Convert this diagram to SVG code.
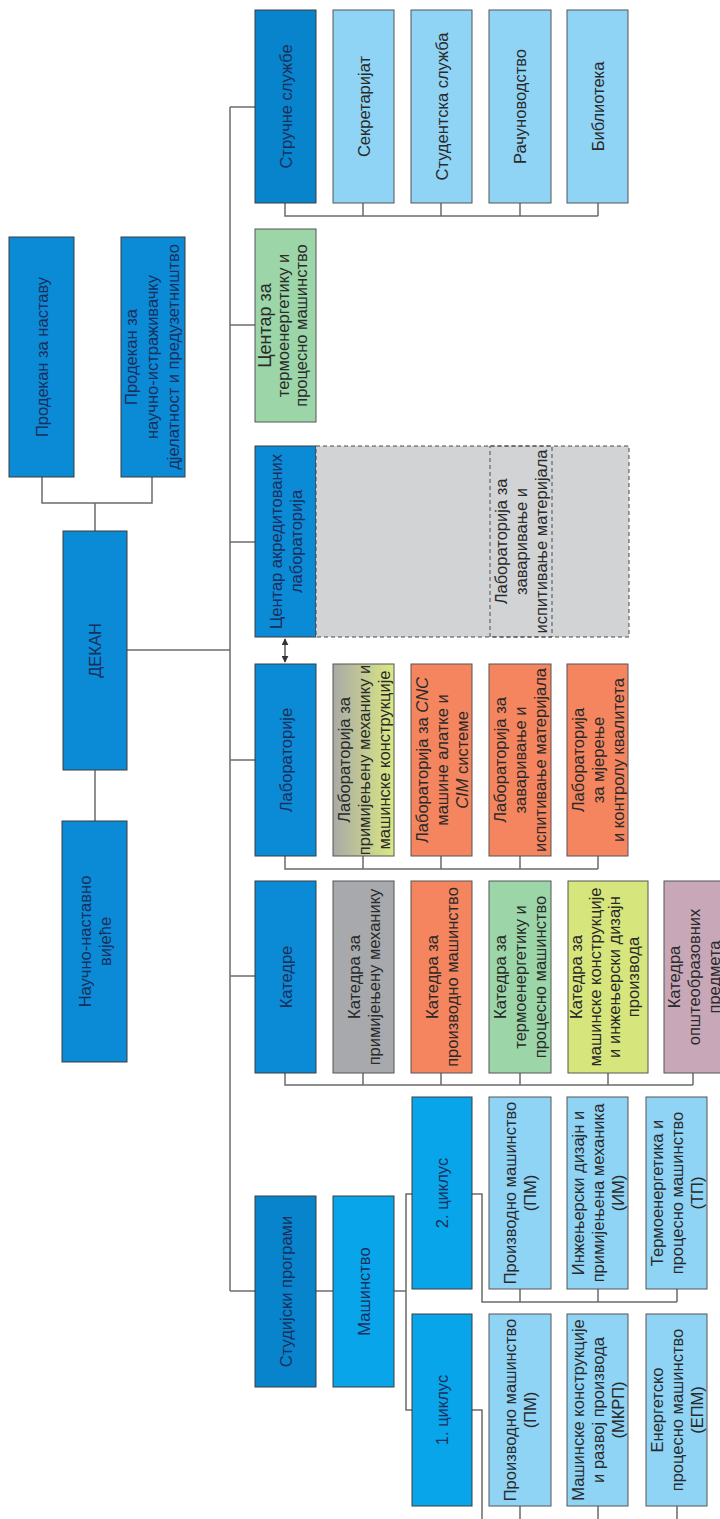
<svg xmlns="http://www.w3.org/2000/svg" width="720" height="1519" viewBox="0 0 720 1519">
<defs>
<style>
.n{stroke:#3c3c3c;stroke-width:1}
.db{fill:#0b8ad6}
.dk{fill:#0784cc}
.cy{fill:#08a5ea}
.lb{fill:#8fd3f5;stroke:#555}
.gr{fill:#9bd5a8;stroke:#555}
.gy{fill:#a7a9ac;stroke:#555}
.or{fill:#f5855f;stroke:#555}
.yg{fill:#d6e57c;stroke:#555}
.pk{fill:#c8a8b8;stroke:#555}
.lg{fill:url(#g1);stroke:#555}
.da{fill:#d1d3d4;stroke:#4a4a4a;stroke-width:1;stroke-dasharray:4 3}
.di{fill:none;stroke:#4a4a4a;stroke-width:1;stroke-dasharray:4 3}
text{font-family:"Liberation Sans",Arial,sans-serif;font-size:16.5px;text-anchor:middle;fill:#2a2a2a}
text.bt{fill:#1a2f5c}
#connectors path{fill:none;stroke:#6b6b6b;stroke-width:1.5}
#connectors path.ar{stroke:#333;stroke-width:1.2}
</style>
<linearGradient id="g1" x1="0" y1="0" x2="1" y2="0">
<stop offset="0" stop-color="#a9aaa6"/>
<stop offset="1" stop-color="#dbe882"/>
</linearGradient>
<marker id="ah" viewBox="0 0 10 10" refX="9" refY="5" markerWidth="7" markerHeight="7" orient="auto-start-reverse" markerUnits="userSpaceOnUse">
<path d="M0,0 L10,5 L0,10 z" fill="#333"/>
</marker>
</defs>
<rect width="720" height="1519" fill="#fff"/>

<g id="connectors">
<path d="M230,107 V1291"/>
<path d="M230,107 H255"/>
<path d="M230,325 H255"/>
<path d="M230,542 H255"/>
<path d="M127,650 H230"/>
<path d="M230,760 H255"/>
<path d="M230,976 H255"/>
<path d="M230,1291 H255"/>
<path d="M285,203 V216 H598 M363,203 V216 M441,203 V216 M520,203 V216 M598,203 V216"/>
<path d="M285,856 V869 H598 M363,856 V869 M441,856 V869 M520,856 V869 M598,856 V869"/>
<path d="M285,1073 V1085 H693 M363,1073 V1085 M441,1073 V1085 M520,1073 V1085 M608,1073 V1085 M693,1073 V1085"/>
<path d="M42,477 V503 H152 V477 M95,503 V531"/>
<path d="M95,770 V821"/>
<path d="M316,1291 H333"/>
<path d="M394,1291 H406 M412,1194 H406 V1410 H412"/>
<path d="M472,1194 H482 V1302 H677 M520,1289 V1302 M598,1289 V1302 M677,1289 V1302"/>
<path d="M472,1410 H482 V1525 H677 M520,1506 V1525 M598,1506 V1525 M677,1506 V1525"/>
<path class="ar" d="M285,639 V662" marker-start="url(#ah)" marker-end="url(#ah)"/>
</g>

<g id="strucne-sluzbe"><rect class="n dk" x="255" y="10" width="61" height="193"/>
<text class="bt" transform="translate(285.5,106.5) rotate(-90)"><tspan x="0" y="6">Стручне службе</tspan></text></g>
<g id="sekretarijat"><rect class="n lb" x="333" y="10" width="61" height="193"/>
<text transform="translate(363.5,106.5) rotate(-90)"><tspan x="0" y="6">Секретаријат</tspan></text></g>
<g id="studentska-sluzba"><rect class="n lb" x="411" y="10" width="61" height="193"/>
<text transform="translate(441.5,106.5) rotate(-90)"><tspan x="0" y="6">Студентска служба</tspan></text></g>
<g id="racunovodstvo"><rect class="n lb" x="489" y="10" width="62" height="193"/>
<text transform="translate(520,106.5) rotate(-90)"><tspan x="0" y="6">Рачуноводство</tspan></text></g>
<g id="biblioteka"><rect class="n lb" x="567" y="10" width="61" height="193"/>
<text transform="translate(597.5,106.5) rotate(-90)"><tspan x="0" y="6">Библиотека</tspan></text></g>

<g id="centar-termo"><rect class="n gr" x="255" y="229" width="61" height="193"/>
<text transform="translate(283,325.5) rotate(-90)"><tspan x="0" y="-12" style="font-size:18px">Центар за</tspan><tspan x="0" y="6">термоенергетику и</tspan><tspan x="0" y="24">процесно машинство</tspan></text></g>

<g id="centar-akred"><rect class="n db" x="255" y="446" width="61" height="191"/>
<text class="bt" transform="translate(285.5,541.5) rotate(-90)"><tspan x="0" y="-4">Центар акредитованих</tspan><tspan x="0" y="16">лабораторија</tspan></text></g>

<g id="akred-labs"><rect class="da" x="316" y="446" width="313" height="191"/>
<rect class="di" x="490" y="446" width="62" height="191"/>
<text transform="translate(521,541.5) rotate(-90)"><tspan x="0" y="-14">Лабораторија за</tspan><tspan x="0" y="6">заваривање и</tspan><tspan x="0" y="26">испитивање материјала</tspan></text></g>

<g id="laboratorije"><rect class="n db" x="255" y="664" width="61" height="192"/>
<text class="bt" transform="translate(285.5,760) rotate(-90)"><tspan x="0" y="6">Лабораторије</tspan></text></g>
<g id="lab-mehanika"><rect class="n lg" x="333" y="664" width="61" height="192"/>
<text transform="translate(363.5,760) rotate(-90)"><tspan x="0" y="-14">Лабораторија за</tspan><tspan x="0" y="6">примијењену механику и</tspan><tspan x="0" y="26">машинске конструкције</tspan></text></g>
<g id="lab-cnc"><rect class="n or" x="411" y="664" width="61" height="192"/>
<text transform="translate(441.5,760) rotate(-90)"><tspan x="0" y="-14">Лабораторија за <tspan font-style="italic">CNC</tspan></tspan><tspan x="0" y="6">машине алатке и</tspan><tspan x="0" y="26"><tspan font-style="italic">CIM</tspan> системе</tspan></text></g>
<g id="lab-zavarivanje"><rect class="n or" x="489" y="664" width="62" height="192"/>
<text transform="translate(520,760) rotate(-90)"><tspan x="0" y="-14">Лабораторија за</tspan><tspan x="0" y="6">заваривање и</tspan><tspan x="0" y="26">испитивање материјала</tspan></text></g>
<g id="lab-mjerenje"><rect class="n or" x="567" y="664" width="61" height="192"/>
<text transform="translate(597.5,760) rotate(-90)"><tspan x="0" y="-14">Лабораторија</tspan><tspan x="0" y="6">за мјерење</tspan><tspan x="0" y="26">и контролу квалитета</tspan></text></g>

<g id="katedre"><rect class="n db" x="255" y="881" width="61" height="192"/>
<text class="bt" transform="translate(285.5,977) rotate(-90)"><tspan x="0" y="6">Катедре</tspan></text></g>
<g id="kat-mehanika"><rect class="n gy" x="333" y="881" width="61" height="192"/>
<text transform="translate(363.5,977) rotate(-90)"><tspan x="0" y="-4">Катедра за</tspan><tspan x="0" y="16">примијењену механику</tspan></text></g>
<g id="kat-proizvodno"><rect class="n or" x="411" y="881" width="61" height="192"/>
<text transform="translate(441.5,977) rotate(-90)"><tspan x="0" y="-4">Катедра за</tspan><tspan x="0" y="16">производно машинство</tspan></text></g>
<g id="kat-termo"><rect class="n gr" x="489" y="881" width="62" height="192"/>
<text transform="translate(520,977) rotate(-90)"><tspan x="0" y="-14">Катедра за</tspan><tspan x="0" y="6">термоенергетику и</tspan><tspan x="0" y="26">процесно машинство</tspan></text></g>
<g id="kat-konstrukcije"><rect class="n yg" x="568" y="881" width="80" height="192"/>
<text transform="translate(606,977) rotate(-90)"><tspan x="0" y="-24">Катедра за</tspan><tspan x="0" y="-5">машинске конструкције</tspan><tspan x="0" y="14">и инжењерски дизајн</tspan><tspan x="0" y="33">производа</tspan></text></g>
<g id="kat-opste"><rect class="n pk" x="664" y="881" width="64" height="192"/>
<text transform="translate(694,977) rotate(-90)"><tspan x="0" y="-14">Катедра</tspan><tspan x="0" y="6">општеобразовних</tspan><tspan x="0" y="26">предмета</tspan></text></g>

<g id="studijski-programi"><rect class="n dk" x="255" y="1196" width="61" height="191"/>
<text class="bt" transform="translate(285.5,1291.5) rotate(-90)"><tspan x="0" y="6">Студијски програми</tspan></text></g>
<g id="masinstvo"><rect class="n cy" x="333" y="1196" width="61" height="191"/>
<text class="bt" transform="translate(363.5,1291.5) rotate(-90)"><tspan x="0" y="6">Машинство</tspan></text></g>
<g id="ciklus-2"><rect class="n cy" x="412" y="1097" width="60" height="192"/>
<text class="bt" transform="translate(442,1193) rotate(-90)"><tspan x="0" y="6">2. циклус</tspan></text></g>
<g id="ciklus-1"><rect class="n cy" x="412" y="1314" width="60" height="192"/>
<text class="bt" transform="translate(442,1410) rotate(-90)"><tspan x="0" y="6">1. циклус</tspan></text></g>

<g id="c2-pm"><rect class="n lb" x="489" y="1097" width="62" height="192"/>
<text transform="translate(520,1193) rotate(-90)"><tspan x="0" y="-4">Производно машинство</tspan><tspan x="0" y="16">(ПМ)</tspan></text></g>
<g id="c2-im"><rect class="n lb" x="567" y="1097" width="61" height="192"/>
<text transform="translate(597.5,1193) rotate(-90)"><tspan x="0" y="-14">Инжењерски дизајн и</tspan><tspan x="0" y="6">примијењена механика</tspan><tspan x="0" y="26">(ИМ)</tspan></text></g>
<g id="c2-tp"><rect class="n lb" x="646" y="1097" width="61" height="192"/>
<text transform="translate(676.5,1193) rotate(-90)"><tspan x="0" y="-14">Термоенергетика и</tspan><tspan x="0" y="6">процесно машинство</tspan><tspan x="0" y="26">(ТП)</tspan></text></g>

<g id="c1-pm"><rect class="n lb" x="489" y="1314" width="62" height="192"/>
<text transform="translate(520,1410) rotate(-90)"><tspan x="0" y="-4">Производно машинство</tspan><tspan x="0" y="16">(ПМ)</tspan></text></g>
<g id="c1-mkrp"><rect class="n lb" x="567" y="1314" width="61" height="192"/>
<text transform="translate(597.5,1410) rotate(-90)"><tspan x="0" y="-14">Машинске конструкције</tspan><tspan x="0" y="6">и развој производа</tspan><tspan x="0" y="26">(МКРП)</tspan></text></g>
<g id="c1-epm"><rect class="n lb" x="646" y="1314" width="61" height="192"/>
<text transform="translate(676.5,1410) rotate(-90)"><tspan x="0" y="-14">Енергетско</tspan><tspan x="0" y="6">процесно машинство</tspan><tspan x="0" y="26">(ЕПМ)</tspan></text></g>

<g id="dekan"><rect class="n db" x="63" y="531" width="64" height="239"/>
<text class="bt" transform="translate(95,650.5) rotate(-90)"><tspan x="0" y="6">ДЕКАН</tspan></text></g>
<g id="prodekan-nastava"><rect class="n db" x="9" y="237" width="65" height="240"/>
<text class="bt" transform="translate(41.5,357) rotate(-90)"><tspan x="0" y="6">Продекан за наставу</tspan></text></g>
<g id="prodekan-nauka"><rect class="n db" x="121" y="237" width="64" height="240"/>
<text class="bt" transform="translate(153,357) rotate(-90)"><tspan x="0" y="-16">Продекан за</tspan><tspan x="0" y="5">научно-истраживачку</tspan><tspan x="0" y="26">дјелатност и предузетништво</tspan></text></g>
<g id="nnv"><rect class="n db" x="62" y="821" width="65" height="241"/>
<text class="bt" transform="translate(94.5,941.5) rotate(-90)"><tspan x="0" y="-4">Научно-наставно</tspan><tspan x="0" y="16">вијеће</tspan></text></g>
</svg>
